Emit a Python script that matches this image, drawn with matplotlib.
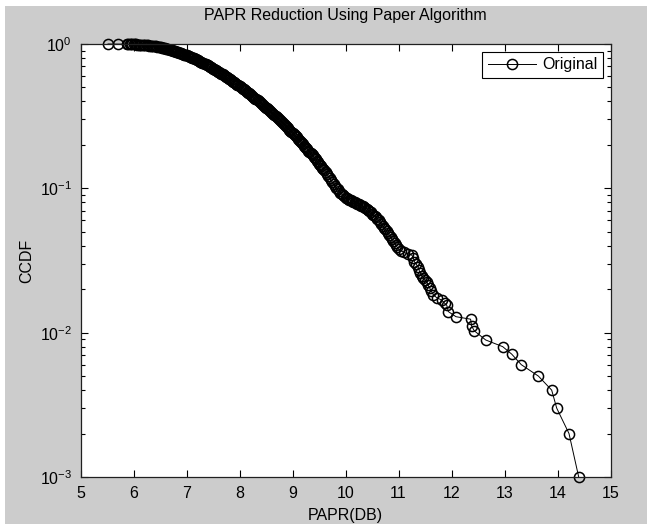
import matplotlib
matplotlib.use("Agg")
import matplotlib.pyplot as plt
from matplotlib.patches import Rectangle
from matplotlib.ticker import LogLocator, NullFormatter, FixedLocator

plt.rcParams['font.family'] = ['Liberation Sans', 'DejaVu Sans']

papr_db = [5.52, 5.71, 5.87,
    5.900, 5.925, 5.950, 5.975, 6.000, 6.025, 6.050, 6.075, 6.100, 6.125, 6.150, 6.175,
    6.200, 6.225, 6.250, 6.275, 6.300, 6.325, 6.350, 6.375, 6.400, 6.425, 6.450, 6.475, 6.500,
    6.52, 6.54, 6.56, 6.58, 6.60, 6.62, 6.64, 6.66, 6.68, 6.70, 6.72, 6.74, 6.76, 6.78,
    6.80, 6.82, 6.84, 6.86, 6.88, 6.90, 6.92, 6.94, 6.96, 6.98, 7.00, 7.02, 7.04, 7.06, 7.08,
    7.10, 7.12, 7.14, 7.16, 7.18, 7.20, 7.22, 7.24, 7.26, 7.28, 7.30, 7.32, 7.34, 7.36, 7.38,
    7.40, 7.42, 7.44, 7.46, 7.48, 7.50, 7.52, 7.54, 7.56, 7.58, 7.60, 7.62, 7.64, 7.66, 7.68,
    7.70, 7.72, 7.74, 7.76, 7.78, 7.80, 7.82, 7.84, 7.86, 7.88, 7.90, 7.92, 7.94, 7.96, 7.98,
    8.00, 8.02, 8.04, 8.06, 8.08, 8.10, 8.12, 8.14, 8.16, 8.18, 8.20, 8.22, 8.24, 8.26, 8.28,
    8.30, 8.32, 8.34, 8.36, 8.38, 8.40, 8.42, 8.44, 8.46, 8.48, 8.50, 8.52, 8.54, 8.56, 8.58,
    8.60, 8.62, 8.64, 8.66, 8.68, 8.70, 8.72, 8.74, 8.76, 8.78, 8.80, 8.82, 8.84, 8.86, 8.88,
    8.90, 8.92, 8.94, 8.96, 8.98, 9.00, 9.02, 9.04, 9.06, 9.08, 9.10, 9.12, 9.14, 9.16, 9.18,
    9.20, 9.22, 9.24, 9.26, 9.28, 9.30, 9.32, 9.34, 9.36, 9.38, 9.40, 9.42, 9.44, 9.46, 9.48,
    9.50, 9.52, 9.54, 9.56, 9.58, 9.60,
    9.625, 9.650, 9.675, 9.700, 9.725, 9.750, 9.775, 9.800, 9.825, 9.850, 9.875, 9.900,
    9.925, 9.950, 9.975, 10.000, 10.025, 10.050, 10.075, 10.100, 10.125, 10.150, 10.175,
    10.200, 10.225, 10.250, 10.275, 10.300, 10.325, 10.350, 10.375, 10.400, 10.425, 10.450,
    10.475, 10.500, 10.525, 10.550, 10.575, 10.600, 10.625, 10.650, 10.675, 10.700, 10.725,
    10.750, 10.775, 10.800, 10.825, 10.850, 10.875, 10.900, 10.925, 10.950, 10.975, 11.000,
    11.05, 11.10, 11.18, 11.25, 11.28, 11.30, 11.33, 11.37, 11.39, 11.41, 11.44, 11.47,
    11.50, 11.53, 11.56, 11.59, 11.62, 11.66, 11.72, 11.815, 11.87, 11.91, 11.94,
    12.085, 12.36, 12.38, 12.43, 12.645, 12.966, 13.136, 13.317, 13.64, 13.89, 13.985,
    14.217, 14.40]
ccdf = [1.000, 0.999, 0.998,
    0.9972, 0.9968, 0.9963, 0.9959, 0.9954, 0.9943, 0.9931, 0.9920, 0.9908, 0.9897, 0.9886, 0.9874,
    0.9863, 0.9838, 0.9811, 0.9786, 0.9761, 0.9736, 0.9710, 0.9685, 0.9660, 0.9618, 0.9576, 0.9537, 0.9495,
    0.9463, 0.9430, 0.9397, 0.9365, 0.9333, 0.9286, 0.9239, 0.9192, 0.9146, 0.9099, 0.9054, 0.9008, 0.8962, 0.8917,
    0.8872, 0.8819, 0.8766, 0.8714, 0.8662, 0.8610, 0.8559, 0.8508, 0.8457, 0.8406, 0.8356, 0.8295, 0.8234, 0.8173, 0.8114,
    0.8054, 0.7995, 0.7936, 0.7878, 0.7820, 0.7762, 0.7695, 0.7628, 0.7561, 0.7496, 0.7430, 0.7366, 0.7302, 0.7238, 0.7175,
    0.7112, 0.7041, 0.6970, 0.6899, 0.6830, 0.6761, 0.6693, 0.6626, 0.6559, 0.6493, 0.6427, 0.6357, 0.6287, 0.6218, 0.6150,
    0.6081, 0.6015, 0.5949, 0.5883, 0.5819, 0.5754, 0.5686, 0.5618, 0.5551, 0.5485, 0.5420, 0.5355, 0.5291, 0.5228, 0.5166,
    0.5105, 0.5039, 0.4975, 0.4911, 0.4848, 0.4786, 0.4725, 0.4664, 0.4604, 0.4545, 0.4487, 0.4426, 0.4365, 0.4305, 0.4246,
    0.4188, 0.4130, 0.4074, 0.4018, 0.3963, 0.3908, 0.3851, 0.3795, 0.3739, 0.3685, 0.3631, 0.3578, 0.3526, 0.3474, 0.3424,
    0.3373, 0.3321, 0.3269, 0.3218, 0.3168, 0.3119, 0.3071, 0.3023, 0.2976, 0.2930, 0.2884, 0.2834, 0.2785, 0.2737, 0.2689,
    0.2642, 0.2598, 0.2554, 0.2511, 0.2468, 0.2427, 0.2382, 0.2339, 0.2296, 0.2254, 0.2213, 0.2173, 0.2133, 0.2094, 0.2056,
    0.2018, 0.1979, 0.1940, 0.1902, 0.1865, 0.1828, 0.1793, 0.1759, 0.1725, 0.1692, 0.1660, 0.1623, 0.1588, 0.1553, 0.1519,
    0.1486, 0.1454, 0.1423, 0.1392, 0.1363, 0.1334,
    0.1292, 0.1252, 0.1213, 0.1175, 0.1138, 0.1103, 0.1068, 0.1035, 0.1009, 0.0983, 0.0958, 0.0933,
    0.0914, 0.0897, 0.0878, 0.0861, 0.0852, 0.0843, 0.0834, 0.0826, 0.0818, 0.0810, 0.0802,
    0.0794, 0.0785, 0.0776, 0.0767, 0.0759, 0.0750, 0.0741, 0.0733, 0.0724, 0.0710, 0.0696,
    0.0682, 0.0668, 0.0655, 0.0642, 0.0629, 0.0617, 0.0599, 0.0582, 0.0566, 0.0550, 0.0534,
    0.0519, 0.0504, 0.0490, 0.0475, 0.0460, 0.0445, 0.0432, 0.0418, 0.0405, 0.0392, 0.0380,
    0.0370, 0.0360, 0.0352, 0.0345, 0.0330, 0.0310, 0.0300, 0.0286, 0.0270, 0.0258, 0.0248, 0.0240,
    0.0232, 0.0225, 0.0213, 0.0203, 0.0193, 0.0182, 0.0175, 0.0168, 0.0160, 0.0155, 0.0140,
    0.0129, 0.0124, 0.0111, 0.0103, 0.0089, 0.0080, 0.0071, 0.0060, 0.0050, 0.0040, 0.0030,
    0.0020, 0.0010]

x_ticks = [5, 6, 7, 8, 9, 10, 11, 12, 13, 14, 15]
title_text = "PAPR Reduction Using Paper Algorithm"
x_label = "PAPR(DB)"
y_label = "CCDF"
legend_label = "Original"

W, H = 647, 524
fig = plt.figure(figsize=(W / 100, H / 100), dpi=100, facecolor='#cccccc')
fig.patches.append(Rectangle((0, 1 - 6 / H), 1, 6 / H, transform=fig.transFigure,
                             facecolor='white', edgecolor='none', zorder=-1))
fig.patches.append(Rectangle((0, 0), 5 / W, 1, transform=fig.transFigure,
                             facecolor='white', edgecolor='none', zorder=-1))

ax = fig.add_axes([80.5 / W, 1 - 477 / H, 530 / W, 433 / H])
ax.set_facecolor('white')
ax.plot(papr_db, ccdf, color='black', linewidth=0.7, marker='o', markersize=7.3,
        markerfacecolor='none', markeredgecolor='black', markeredgewidth=1.1,
        label=legend_label, clip_on=False)
ax.set_yscale('log')
ax.set_xlim(5, 15)
ax.set_ylim(1e-3, 1)
ax.xaxis.set_major_locator(FixedLocator(x_ticks))
ax.set_xticklabels([str(t) for t in x_ticks])
ax.yaxis.set_major_locator(LogLocator(base=10, numticks=10))
ax.yaxis.set_minor_locator(LogLocator(base=10, subs=range(2, 10), numticks=20))
ax.yaxis.set_minor_formatter(NullFormatter())

ax.tick_params(which='both', direction='in', top=True, right=True, colors='black',
               labelsize=11.5, width=0.8)
ax.tick_params(which='major', length=5)
ax.tick_params(axis='x', which='major', pad=6.5)
ax.tick_params(axis='y', which='major', pad=6)
ax.tick_params(which='minor', length=3)
for s in ax.spines.values():
    s.set_linewidth(0.9)
    s.set_color('#202020')

ax.set_title(title_text, fontsize=11.5, pad=17)
ax.set_xlabel(x_label, fontsize=11.5, labelpad=5)
ax.set_ylabel(y_label, fontsize=11.5, labelpad=4)

leg = ax.legend(loc='upper right', fancybox=False, edgecolor='black', framealpha=1,
                fontsize=11.5, handlelength=3.0, handletextpad=0.4,
                borderaxespad=0.47, borderpad=0.35)
leg.get_frame().set_linewidth(0.8)

fig.savefig('out.png', dpi=100, facecolor=fig.get_facecolor())
